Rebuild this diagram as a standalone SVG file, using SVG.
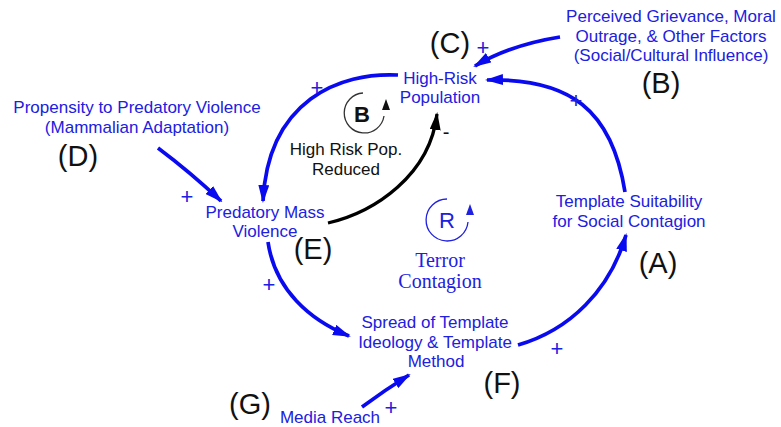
<svg xmlns="http://www.w3.org/2000/svg" width="781" height="427" viewBox="0 0 781 427">
<style>
.n{font-family:"Liberation Sans",Arial,sans-serif;font-size:17px;fill:#2020e0;text-anchor:middle}
.k{font-family:"Liberation Sans",Arial,sans-serif;font-size:17px;fill:#111;text-anchor:middle}
.lab{font-family:"Liberation Sans",Arial,sans-serif;font-size:29px;fill:#111;text-anchor:middle}
.pl{font-family:"Liberation Sans",Arial,sans-serif;font-size:22px;fill:#2020e0;text-anchor:middle}
.mi{font-family:"Liberation Sans",Arial,sans-serif;font-size:20px;fill:#111;text-anchor:middle}
.lb{font-family:"Liberation Sans",Arial,sans-serif;font-size:22px;font-weight:bold;fill:#111;text-anchor:middle}
.lr{font-family:"Liberation Sans",Arial,sans-serif;font-size:22px;fill:#2020e0;text-anchor:middle}
.ser{font-family:"Liberation Serif","Times New Roman",serif;font-size:20px;fill:#2020e0;text-anchor:middle}
.b{fill:none;stroke:#0a0af0;stroke-width:3.7}
.bk{fill:none;stroke:#000;stroke-width:3.3}
</style>
<defs>
<marker id="ab" viewBox="0 0 18 11" refX="16" refY="5.5" markerWidth="18" markerHeight="11" markerUnits="userSpaceOnUse" orient="auto">
<path d="M0,0 L18,5.5 L0,11 z" fill="#0a0af0"/>
</marker>
<marker id="ak" viewBox="0 0 18 11" refX="16" refY="5.5" markerWidth="18" markerHeight="11" markerUnits="userSpaceOnUse" orient="auto">
<path d="M0,0 L18,5.5 L0,11 z" fill="#000"/>
</marker>
</defs>
<rect width="781" height="427" fill="#fff"/>
<g id="connectors">
<path class="b" d="M398,75 C340,72 268,100 263,201" marker-end="url(#ab)"/>
<path class="b" d="M268,242 C275,290 310,320 349,336" marker-end="url(#ab)"/>
<path class="b" d="M518,345 C570,330 610,290 626,235" marker-end="url(#ab)"/>
<path class="b" d="M625,192 C612,110 570,78 487,80" marker-end="url(#ab)"/>
<path class="b" d="M560,37 Q510,45 475,66" marker-end="url(#ab)"/>
<path class="b" d="M158,148 Q190,172 221,201" marker-end="url(#ab)"/>
<path class="b" d="M362,407 Q385,390 409,375" marker-end="url(#ab)"/>
<path class="bk" d="M328,223 C375,212 430,175 437,114" marker-end="url(#ak)"/>
<text class="pl" x="483" y="55">+</text>
<text class="pl" x="317" y="95">+</text>
<text class="pl" x="576" y="108">+</text>
<text class="pl" x="187" y="204">+</text>
<text class="pl" x="269" y="292">+</text>
<text class="pl" x="557" y="356">+</text>
<text class="pl" x="391" y="415">+</text>
<text class="mi" x="446" y="139">-</text>
</g>
<g id="highrisk">
<text class="n" x="440" y="84">High-Risk</text>
<text class="n" x="440" y="103">Population</text>
<text class="lab" x="450" y="53">(C)</text>
</g>
<g id="grievance">
<text class="n" x="671" y="22">Perceived Grievance, Moral</text>
<text class="n" x="671" y="42">Outrage, &amp; Other Factors</text>
<text class="n" x="671" y="61">(Social/Cultural Influence)</text>
<text class="lab" x="661" y="93">(B)</text>
</g>
<g id="propensity">
<text class="n" x="137" y="113">Propensity to Predatory Violence</text>
<text class="n" x="137" y="133">(Mammalian Adaptation)</text>
<text class="lab" x="78" y="166">(D)</text>
</g>
<g id="predatory">
<text class="n" x="265" y="218">Predatory Mass</text>
<text class="n" x="265" y="237">Violence</text>
<text class="lab" x="313" y="259">(E)</text>
</g>
<g id="template">
<text class="n" x="629" y="207">Template Suitability</text>
<text class="n" x="629" y="227">for Social Contagion</text>
<text class="lab" x="658" y="273">(A)</text>
</g>
<g id="spread">
<text class="n" x="435" y="328">Spread of Template</text>
<text class="n" x="435" y="348">Ideology &amp; Template</text>
<text class="n" x="436" y="367">Method</text>
<text class="lab" x="502" y="393">(F)</text>
</g>
<g id="media">
<text class="n" x="330" y="423">Media Reach</text>
<text class="lab" x="250" y="414">(G)</text>
</g>
<g id="loopB">
<path d="M363,93 A20,20 0 1 0 384,116" fill="none" stroke="#333" stroke-width="1.3"/>
<polygon points="386,99 382,110 390,110" fill="#111"/>
<text class="lb" x="362" y="122">B</text>
<text class="k" x="346" y="155">High Risk Pop.</text>
<text class="k" x="346" y="175">Reduced</text>
</g>
<g id="loopR">
<path d="M447,199 A21,21 0 1 0 468,222" fill="none" stroke="#2020e0" stroke-width="1.3"/>
<polygon points="470,204 466,215 474,215" fill="#2020e0"/>
<text class="lr" x="447" y="228">R</text>
<text class="ser" x="440" y="267">Terror</text>
<text class="ser" x="440" y="288">Contagion</text>
</g>
</svg>
